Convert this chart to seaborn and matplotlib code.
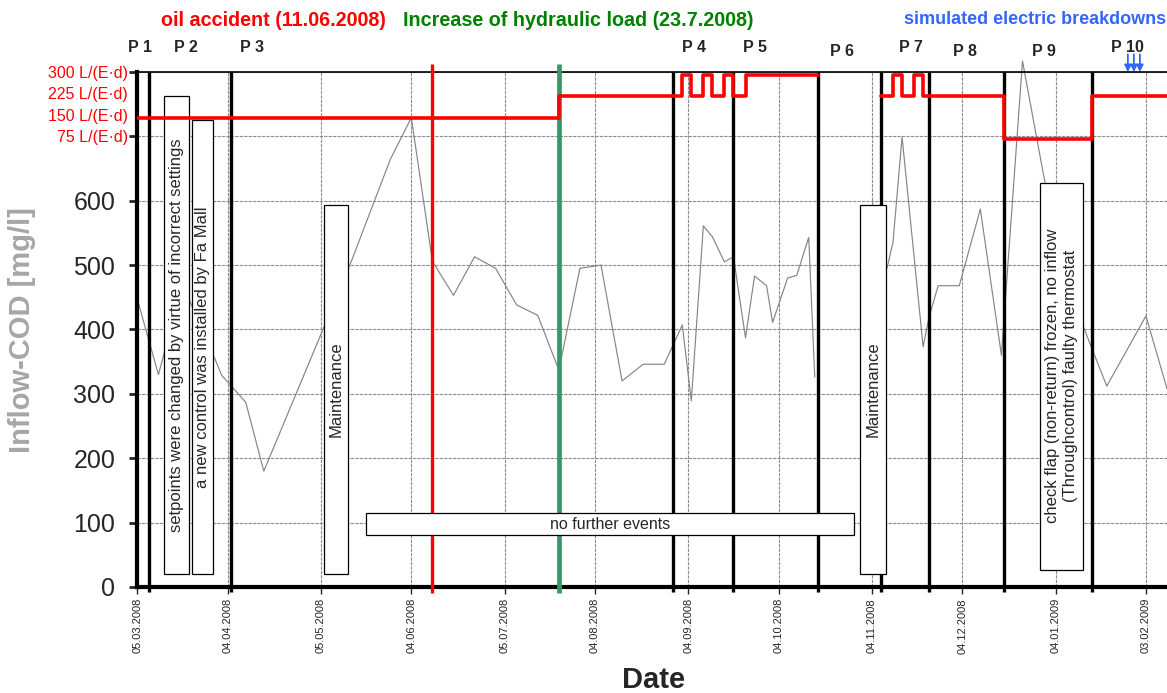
import pandas as pd
import numpy as np
import matplotlib
matplotlib.use('Agg')
import matplotlib.pyplot as plt
import matplotlib.dates as mdates
import matplotlib.transforms as mtransforms
from matplotlib.patches import Rectangle
import seaborn as sns

# Inflow COD samples (two stretches, nothing measured during P 6)
cod_dates = [
    '2008-03-05', '2008-03-12', '2008-03-20', '2008-03-30', '2008-04-02', '2008-04-10',
    '2008-04-16', '2008-05-06', '2008-05-15', '2008-05-28', '2008-06-04', '2008-06-11',
    '2008-06-18', '2008-06-25', '2008-07-02', '2008-07-09', '2008-07-16', '2008-07-23',
    '2008-07-30', '2008-08-06', '2008-08-13', '2008-08-20', '2008-08-27', '2008-09-02',
    '2008-09-05', '2008-09-09', '2008-09-12', '2008-09-16', '2008-09-19', '2008-09-23',
    '2008-09-26', '2008-09-30', '2008-10-02', '2008-10-07', '2008-10-10', '2008-10-14',
    '2008-10-16',
    '2008-11-09', '2008-11-11', '2008-11-14', '2008-11-21', '2008-11-23', '2008-11-26',
    '2008-12-03', '2008-12-10', '2008-12-17', '2008-12-24', '2008-12-31', '2009-01-07',
    '2009-01-14', '2009-01-21', '2009-02-03', '2009-02-10',
]
cod_values = [
    447, 330, 470, 363, 329, 287,
    180, 404, 505, 664, 729, 506,
    453, 513, 495, 438, 422, 337,
    495, 500, 320, 346, 346, 407,
    289, 561, 544, 505, 513, 387,
    483, 468, 411, 480, 484, 543,
    326,
    495, 536, 699, 373, 420, 468,
    468, 587, 360, 817, 640, 480,
    395, 312, 421, 308,
]
cod_segment = [1] * 37 + [2] * 16

# hydraulic load setpoint in L/(E*d)
load_dates = [
    '2008-03-05', '2008-07-23', '2008-09-02', '2008-09-05', '2008-09-09', '2008-09-12',
    '2008-09-16', '2008-09-19', '2008-09-23', '2008-10-17',
    '2008-11-07', '2008-11-11', '2008-11-14', '2008-11-18', '2008-11-21', '2008-12-18',
    '2009-01-16', '2009-02-10',
]
load_values = [150, 225, 300, 225, 300, 225, 300, 225, 300, 300,
               225, 300, 225, 300, 225, 75, 225, 225]
load_segment = [1] * 10 + [2] * 8
load_ticks = [75, 150, 225, 300]

# phase boundaries and phase labels
phase_bounds = ['2008-03-09', '2008-04-05', '2008-08-30', '2008-09-19', '2008-10-17',
                '2008-11-07', '2008-11-23', '2008-12-18', '2009-01-16']
phase_names = ['P 1', 'P 2', 'P 3', 'P 4', 'P 5', 'P 6', 'P 7', 'P 8', 'P 9', 'P 10']
phase_label_dates = ['2008-03-06', '2008-03-21', '2008-04-12', '2008-09-06', '2008-09-26',
                     '2008-10-25', '2008-11-17', '2008-12-05', '2008-12-31', '2009-01-28']
phase_label_low = [False, False, False, False, False, True, False, True, True, False]

oil_date = '2008-06-11'
hydraulic_date = '2008-07-23'
breakdown_dates = ['2009-01-28', '2009-01-30', '2009-02-01']

tick_dates = ['2008-03-05', '2008-04-04', '2008-05-05', '2008-06-04', '2008-07-05',
              '2008-08-04', '2008-09-04', '2008-10-04', '2008-11-04', '2008-12-04',
              '2009-01-04', '2009-02-03']
cod_ticks = [0, 100, 200, 300, 400, 500, 600, 700, 800]

# event notes
note_texts = ['setpoints were changed by virtue of incorrect settings',
              'a new control was installed by Fa Mall',
              'Maintenance',
              'no further events',
              'Maintenance',
              'check flap (non-return) frozen, no inflow\n(Throughcontrol) faulty thermostat']
note_starts = ['2008-03-14', '2008-03-23', '2008-05-06', '2008-05-20', '2008-10-31', '2008-12-29 16:00']
note_ends = ['2008-03-22', '2008-03-30', '2008-05-14', '2008-10-29', '2008-11-08 12:00', '2009-01-13 06:00']
note_lows = [20, 20, 20, 80, 20, 27]
note_highs = [762, 726, 593, 115, 593, 628]
note_rot = [90, 90, 90, 0, 90, 90]

sns.set_style('white')
plt.rcParams['font.family'] = ['Liberation Sans', 'DejaVu Sans']

fig = plt.figure(figsize=(11.67, 6.93), dpi=100)
ax = fig.add_axes([0.1177, 0.1530, 0.8823, 0.7431])

cod = pd.DataFrame({'date': pd.to_datetime(cod_dates), 'cod': cod_values, 'segment': cod_segment})
sns.lineplot(data=cod, x='date', y='cod', units='segment', estimator=None,
             color='#858585', lw=0.85, ax=ax, zorder=2, clip_on=False, legend=False)

ax.set_xlim(pd.Timestamp('2008-03-05'), pd.Timestamp('2009-02-10'))
ax.set_ylim(0, 800)
ax.grid(True, color='#8c8c8c', lw=0.8, ls=(0, (3, 1)))
ax.set_axisbelow(True)

# phase boundaries and events
ax.vlines(pd.to_datetime(phase_bounds), -8, 800, colors='black', lw=2.4, zorder=3, clip_on=False)
ax.vlines(pd.Timestamp(oil_date), -10, 812, colors='#ff0000', lw=2.4, zorder=3, clip_on=False)
ax.vlines(pd.Timestamp(hydraulic_date), -10, 812, colors='#339966', lw=3.4, zorder=3, clip_on=False)

for txt, s, e, lo, hi, rot in zip(note_texts, note_starts, note_ends, note_lows, note_highs, note_rot):
    x0 = mdates.date2num(pd.Timestamp(s))
    x1 = mdates.date2num(pd.Timestamp(e))
    ax.add_patch(Rectangle((x0, lo), x1 - x0, hi - lo, facecolor='white',
                           edgecolor='black', lw=0.9, zorder=4))
    ax.text((x0 + x1) / 2, (lo + hi) / 2, txt, rotation=rot, ha='center', va='center',
            fontsize=12 if rot else 11.5, multialignment='center', zorder=5)

# axes styling
ax.set_yticks(cod_ticks)
ax.set_yticklabels([str(v) if v <= 600 else '' for v in cod_ticks])
ax.set_xticks(pd.to_datetime(tick_dates))
ax.set_xticklabels([pd.Timestamp(d).strftime('%d.%m.%Y') for d in tick_dates], rotation=90)
ax.tick_params(axis='y', length=6, width=2, labelsize=18, pad=10, left=True)
ax.tick_params(axis='x', length=5, width=1, labelsize=8, pad=3, bottom=True)
ax.set_xlabel('')
ax.set_ylabel('')
ax.spines['left'].set_linewidth(3)
ax.spines['bottom'].set_linewidth(3)
ax.spines['top'].set_linewidth(1.2)
ax.spines['right'].set_visible(False)
for sp in ['left', 'bottom', 'top']:
    ax.spines[sp].set_color('black')

# hydraulic load on its own scale
ax2 = ax.twinx()
load = pd.DataFrame({'date': pd.to_datetime(load_dates), 'load': load_values, 'segment': load_segment})
sns.lineplot(data=load, x='date', y='load', units='segment', estimator=None,
             drawstyle='steps-post', color='#ff0000', lw=2.6, ax=ax2, legend=False)
ax2.set_ylim(-1499, 310)
ax2.set_yticks(load_ticks)
ax2.set_yticklabels([f'{v} L/(E·d)' for v in load_ticks])
ax2.yaxis.set_ticks_position('left')
ax2.tick_params(axis='y', length=0, pad=7, labelcolor='#ff0000', labelsize=11.5,
                labelleft=True, labelright=False)
ax2.set_ylabel('')
for sp in ax2.spines.values():
    sp.set_visible(False)
lift = mtransforms.ScaledTranslation(0, 3 / 100, fig.dpi_scale_trans)
for lbl in ax2.get_yticklabels():
    lbl.set_transform(lbl.get_transform() + lift)

# phase labels
trans = mtransforms.blended_transform_factory(ax.transData, ax.transAxes)
for name, d, low in zip(phase_names, phase_label_dates, phase_label_low):
    ax.text(pd.Timestamp(d), 1.039 if low else 1.047, name, transform=trans,
            ha='center', va='center', fontsize=11.5, fontweight='bold')

for d in breakdown_dates:
    ax2.annotate('', xy=(pd.Timestamp(d), 310), xytext=(pd.Timestamp(d), 372),
                 arrowprops=dict(arrowstyle='-|>', color='#3366ff', lw=1.3, mutation_scale=10,
                                 shrinkA=0, shrinkB=0),
                 annotation_clip=False)

fig.text(273 / 1167, 1 - 20 / 693, 'oil accident (11.06.2008)', color='#ff0000',
         fontsize=14.2, fontweight='bold', ha='center', va='center')
fig.text(578 / 1167, 1 - 20 / 693, 'Increase of hydraulic load (23.7.2008)', color='#008000',
         fontsize=14.2, fontweight='bold', ha='center', va='center')
fig.text(1035 / 1167, 1 - 20 / 693, 'simulated electric breakdowns', color='#3366ff',
         fontsize=13, fontweight='bold', ha='center', va='center')
fig.text(654 / 1167, 1 - 680 / 693, 'Date', fontsize=21, fontweight='bold',
         ha='center', va='center')
fig.text(22 / 1167, 1 - 330 / 693, 'Inflow-COD [mg/l]', fontsize=21, fontweight='bold',
         color='#a6a6a6', rotation=90, ha='center', va='center')

fig.savefig('out.png', dpi=100)
